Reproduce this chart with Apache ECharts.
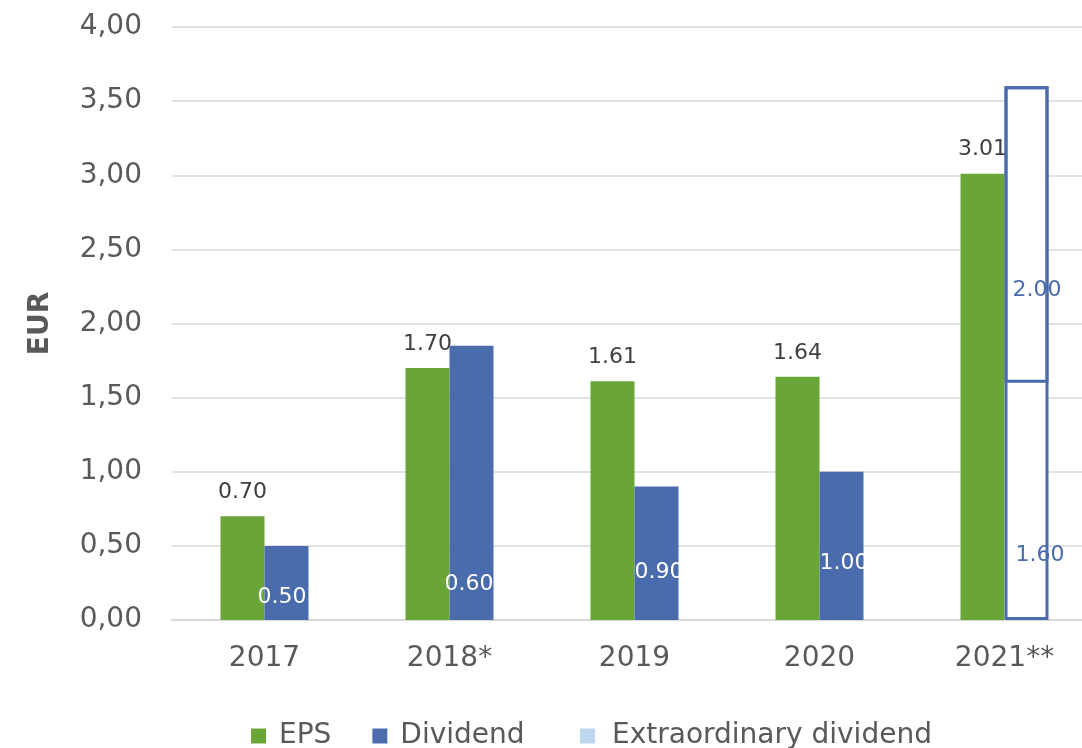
<!DOCTYPE html>
<html>
<head>
    <meta charset="utf-8">
    <title>EPS and Dividend</title>
    <script type="text/javascript" src="https://cdn.jsdelivr.net/npm/echarts@6/dist/echarts.min.js"></script>
    <style>
        body { margin: 0; background: #fff; }
    </style>
</head>
<body>
    <div id="main" style="width: 1082px;height:748px;"></div>

    <script type="text/javascript">
        // data
        var categories = ['2017', '2018*', '2019', '2020', '2021**'];
        var eps = [0.70, 1.70, 1.61, 1.64, 3.01];
        var dividend = [0.50, 0.60, 0.90, 1.00, 1.60];
        var extraDividend = [null, 1.25, null, null, 2.00];
        var yTicks = [0, 4, 0.5]; // min, max, step

        var green = '#6aa637';
        var blue = '#4a6cad';
        var font = 'DejaVu Sans';

        // label offsets for the dividend bars (x, y from bar bottom-left)
        var divLabelOffsets = [[-7, -23], [-5, -36], [0, -48], [0, -57], [11, -65]];

        var outlined = { color: '#ffffff', borderColor: blue, borderWidth: 3 };

        var divData = dividend.map(function (v, i) {
            var item = {
                value: v,
                label: {
                    offset: divLabelOffsets[i],
                    color: i === 4 ? blue : '#ffffff'
                }
            };
            // 2021 lower part: white, its frame comes from the outline series
            if (i === 4) item.itemStyle = { color: '#ffffff', borderWidth: 0 };
            return item;
        });

        var extraData = extraDividend.map(function (v, i) {
            if (v === null) return null;
            if (i === 4) {
                return { value: v, itemStyle: outlined, label: { show: true, offset: [8, -93] } };
            }
            return { value: v, itemStyle: { color: blue }, label: { show: false } };
        });

        // frame around the whole 2021 dividend column (dividend + extraordinary)
        var outlineData = categories.map(function (c, i) {
            return extraDividend[i] !== null && i === 4 ? dividend[i] + extraDividend[i] : null;
        });
        var emptyData = categories.map(function () { return null; });

        var myChart = echarts.init(document.getElementById('main'));

        var option = {
            animation: false,
            textStyle: { fontFamily: font },
            grid: {
                left: 172,
                right: -15,
                top: 27,
                bottom: 128,
                outerBoundsMode: 'none'
            },
            legend: [
                {
                    left: 251,
                    top: 722,
                    padding: 0,
                    itemWidth: 15,
                    itemHeight: 15,
                    itemGap: 41,
                    icon: 'rect',
                    textStyle: { fontSize: 28, color: '#595959', fontFamily: font, padding: [0, 0, 0, 8] },
                    data: ['EPS', 'Dividend']
                },
                {
                    left: 580,
                    top: 722,
                    padding: 0,
                    itemWidth: 15,
                    itemHeight: 15,
                    icon: 'rect',
                    textStyle: { fontSize: 28, color: '#595959', fontFamily: font, padding: [0, 0, 0, 12] },
                    data: [{ name: 'Extraordinary dividend', itemStyle: { color: '#bdd7ee', borderWidth: 0 } }]
                }
            ],
            xAxis: [
                {
                    type: 'category',
                    data: categories,
                    axisTick: { show: false },
                    axisLine: { lineStyle: { color: '#d9d9d9', width: 2 } },
                    axisLabel: { fontSize: 28, color: '#595959', margin: 25, fontFamily: font }
                },
                {
                    type: 'category',
                    data: categories,
                    show: false
                }
            ],
            yAxis: {
                type: 'value',
                min: yTicks[0],
                max: yTicks[1],
                interval: yTicks[2],
                name: 'EUR',
                nameLocation: 'middle',
                nameRotate: 90,
                nameGap: 117,
                nameTextStyle: { fontSize: 28, fontWeight: 'bold', color: '#595959', fontFamily: font },
                axisLine: { show: false },
                axisTick: { show: false },
                splitLine: { lineStyle: { color: '#d9d9d9', width: 1.5 } },
                axisLabel: {
                    fontSize: 28,
                    color: '#595959',
                    margin: 30,
                    fontFamily: font,
                    formatter: function (v) { return v.toFixed(2).replace('.', ','); }
                }
            },
            series: [
                {
                    name: 'EPS',
                    type: 'bar',
                    barWidth: 44,
                    barGap: '0%',
                    itemStyle: { color: green },
                    label: {
                        show: true,
                        position: 'top',
                        distance: 13,
                        fontSize: 22,
                        color: '#404040',
                        fontFamily: font,
                        formatter: function (p) { return p.value.toFixed(2); }
                    },
                    data: eps
                },
                {
                    name: 'Dividend',
                    type: 'bar',
                    stack: 'div',
                    barWidth: 44,
                    itemStyle: { color: blue },
                    label: {
                        show: true,
                        position: 'insideBottomLeft',
                        distance: 0,
                        align: 'left',
                        verticalAlign: 'middle',
                        fontSize: 22,
                        fontFamily: font,
                        formatter: function (p) { return p.value.toFixed(2); }
                    },
                    data: divData
                },
                {
                    name: 'Extraordinary dividend',
                    type: 'bar',
                    stack: 'div',
                    barWidth: 44,
                    itemStyle: { color: '#bdd7ee' },
                    label: {
                        show: false,
                        position: 'insideBottomLeft',
                        distance: 0,
                        align: 'left',
                        verticalAlign: 'middle',
                        fontSize: 22,
                        color: blue,
                        fontFamily: font,
                        formatter: function (p) { return p.value.toFixed(2); }
                    },
                    data: extraData
                },
                {
                    name: 'pad',
                    type: 'bar',
                    xAxisIndex: 1,
                    barWidth: 44,
                    barGap: '0%',
                    data: emptyData
                },
                {
                    name: 'frame',
                    type: 'bar',
                    xAxisIndex: 1,
                    barWidth: 44,
                    z: 3,
                    itemStyle: { color: 'rgba(0,0,0,0)', borderColor: blue, borderWidth: 3 },
                    data: outlineData
                }
            ]
        };

        myChart.setOption(option);
    </script>
</body>
</html>
